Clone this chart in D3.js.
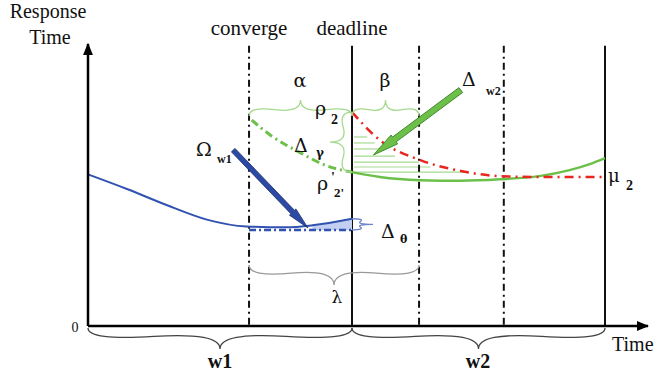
<!DOCTYPE html>
<html>
<head>
<meta charset="utf-8">
<script src="https://cdnjs.cloudflare.com/ajax/libs/d3/7.8.5/d3.min.js"></script>
<style>
  body { margin: 0; background: #fff; }
  text { font-family: "Liberation Serif", "Times New Roman", serif; fill: #111; }
  text.greek { font-family: "DejaVu Serif", serif; }
</style>
</head>
<body>
<div id="container"></div>
<script>
// sizes
const width = 658;
const height = 376;

// data (time units: window w1 = 0..10, w2 = 10..20; response time units 0..10)
const windowBounds = [0, 10, 20];
const convergeT = 6.1;
const betaT = 12.65;
const midW2T = 16;
const axisEndT = 21.8;
const axisTopV = 10;
const lineTopV = 9.8;

// blue response curve in w1
const blueT = [0, 1.5, 3, 4.5, 6, 7.5, 8.5, 10];
const blueV = [5.3, 4.78, 4.22, 3.72, 3.48, 3.45, 3.52, 3.75];
const blueBase = 3.36;       // dashed level after converge
const blueShadeFrom = 7.6;

// green predicted curve: dash-dot part (before deadline) and solid part (w2)
const greenDashT = [6.2, 6.9, 8.0, 9.05, 10];
const greenDashV = [7.2, 6.68, 6.08, 5.6, 5.38];
const greenT = [10, 11.1, 12.7, 14.3, 15.85, 17.4, 18.6, 19.4, 20];
const greenV = [5.38, 5.21, 5.1, 5.08, 5.13, 5.24, 5.45, 5.66, 5.87];

// red dash-dot curve from rho2 down to mu2
const redT = [10, 11.1, 12.7, 14.3, 15.85, 17.4, 20];
const redV = [7.48, 6.5, 5.8, 5.42, 5.24, 5.21, 5.21];

// hatch lines (level, end time)
const hatchV = [6.61, 6.4, 6.19, 5.94, 5.73, 5.56, 5.38];
const hatchEnd = [10.6, 10.9, 11.3, 11.7, 12.65, 13.1, 14.6];

// arrows [tailT, tailV, tipT, tipV]
const omegaArrow = [5.5, 6.15, 8.33, 3.43];
const deltaArrow = [14.3, 8.25, 10.85, 5.98];

// brace levels
const topBraceV = 7.62;
const lambdaV = 2.13;

// scales
const xScale = d3.scaleLinear()
    .domain([0, 10, 20, axisEndT])
    .range([88, 352, 605, 652]);

const yScale = d3.scaleLinear()
    .domain([0, 10])
    .range([326, 40]);

const svg = d3.select("#container")
    .append("svg")
    .attr("width", width)
    .attr("height", height);

const defs = svg.append("defs");
defs.append("marker")
    .attr("id", "axisHead")
    .attr("viewBox", "0 0 10 10")
    .attr("refX", 9).attr("refY", 5)
    .attr("markerWidth", 5).attr("markerHeight", 5)
    .attr("markerUnits", "strokeWidth")
    .attr("orient", "auto")
    .append("path").attr("d", "M0,1 L10,5 L0,9 Z").attr("fill", "#000");

// curly brace between two points, w = depth, q = curl
function brace(x1, y1, x2, y2, w, q) {
    let dx = x1 - x2, dy = y1 - y2;
    const len = Math.sqrt(dx * dx + dy * dy);
    dx /= len; dy /= len;
    const qx1 = x1 + q * w * dy, qy1 = y1 - q * w * dx;
    const qx2 = (x1 - .25 * len * dx) + (1 - q) * w * dy, qy2 = (y1 - .25 * len * dy) - (1 - q) * w * dx;
    const tx1 = (x1 - .5 * len * dx) + w * dy, ty1 = (y1 - .5 * len * dy) - w * dx;
    const qx3 = x2 + q * w * dy, qy3 = y2 - q * w * dx;
    const qx4 = (x1 - .75 * len * dx) + (1 - q) * w * dy, qy4 = (y1 - .75 * len * dy) - (1 - q) * w * dx;
    return `M${x1},${y1} Q${qx1},${qy1} ${qx2},${qy2} T${tx1},${ty1} M${x2},${y2} Q${qx3},${qy3} ${qx4},${qy4} T${tx1},${ty1}`;
}

// thick arrow polygon
function arrowShape(a, shaft, headW, headL) {
    const x1 = xScale(a[0]), y1 = yScale(a[1]), x2 = xScale(a[2]), y2 = yScale(a[3]);
    const len = Math.hypot(x2 - x1, y2 - y1);
    const ux = (x2 - x1) / len, uy = (y2 - y1) / len;
    const nx = -uy, ny = ux;
    const bx = x2 - ux * headL, by = y2 - uy * headL;
    const pts = [
        [x1 + nx * shaft / 2, y1 + ny * shaft / 2],
        [bx + nx * shaft / 2, by + ny * shaft / 2],
        [bx + nx * headW / 2, by + ny * headW / 2],
        [x2, y2],
        [bx - nx * headW / 2, by - ny * headW / 2],
        [bx - nx * shaft / 2, by - ny * shaft / 2],
        [x1 - nx * shaft / 2, y1 - ny * shaft / 2]
    ];
    return "M" + pts.map(p => p.join(",")).join("L") + "Z";
}

const zip = (ts, vs) => ts.map((t, i) => ({t: t, v: vs[i]}));

const line = d3.line()
    .x(d => xScale(d.t))
    .y(d => yScale(d.v))
    .curve(d3.curveMonotoneX);

// hatch lines
svg.selectAll(".hatch")
    .data(zip(hatchEnd, hatchV))
    .join("line")
    .attr("x1", xScale(10) + 2)
    .attr("x2", d => xScale(d.t))
    .attr("y1", d => yScale(d.v))
    .attr("y2", d => yScale(d.v))
    .attr("stroke", "#a6d991")
    .attr("stroke-width", 1.2);

// vertical marker lines
const vLines = [
    {t: convergeT, dash: "7,4,2,4"},
    {t: windowBounds[1], dash: null},
    {t: betaT, dash: "7,4,2,4"},
    {t: midW2T, dash: "7,4,2,4"},
    {t: windowBounds[2], dash: null}
];
svg.selectAll(".vline")
    .data(vLines)
    .join("line")
    .attr("x1", d => xScale(d.t))
    .attr("x2", d => xScale(d.t))
    .attr("y1", yScale(lineTopV))
    .attr("y2", yScale(0))
    .attr("stroke", "#111")
    .attr("stroke-width", 2)
    .attr("stroke-dasharray", d => d.dash);

// blue shaded wedge
const bluePts = zip(blueT, blueV);
const area = d3.area()
    .x(d => xScale(d.t))
    .y0(yScale(blueBase))
    .y1(d => yScale(d.v))
    .curve(d3.curveMonotoneX);
svg.append("path")
    .attr("d", area(bluePts.filter(d => d.t >= blueShadeFrom)))
    .attr("fill", "#c3cff0");

// blue dashed level
svg.append("line")
    .attr("x1", xScale(convergeT)).attr("x2", xScale(10))
    .attr("y1", yScale(blueBase)).attr("y2", yScale(blueBase))
    .attr("stroke", "#3152b0").attr("stroke-width", 2.5)
    .attr("stroke-dasharray", "7,3,2,3");

// blue curve
svg.append("path")
    .attr("d", line(bluePts))
    .attr("fill", "none")
    .attr("stroke", "#3152b0")
    .attr("stroke-width", 2);

// green dash-dot
svg.append("path")
    .attr("d", line(zip(greenDashT, greenDashV)))
    .attr("fill", "none")
    .attr("stroke", "#6cc04a")
    .attr("stroke-width", 3)
    .attr("stroke-dasharray", "8,4,2,4");

// green solid
svg.append("path")
    .attr("d", line(zip(greenT, greenV)))
    .attr("fill", "none")
    .attr("stroke", "#6cc04a")
    .attr("stroke-width", 2.5);

// red dash-dot
svg.append("path")
    .attr("d", line(zip(redT, redV)))
    .attr("fill", "none")
    .attr("stroke", "#e8261f")
    .attr("stroke-width", 2.5)
    .attr("stroke-dasharray", "9,5,2,5");

// braces
const braces = [
    {p: [xScale(10), yScale(topBraceV) + 8, xScale(convergeT), yScale(topBraceV) + 8], w: 16, c: "#a5d98e"},   // alpha
    {p: [xScale(betaT), yScale(topBraceV) + 8, xScale(10), yScale(topBraceV) + 8], w: 16, c: "#a5d98e"},       // beta
    {p: [xScale(10), yScale(redV[0]), xScale(10), yScale(greenV[0])], w: 22, c: "#a5d98e"},                  // delta gamma
    {p: [xScale(10), yScale(blueBase), xScale(10), yScale(blueV[blueV.length - 1])], w: 21, c: "#6f86cf"},   // delta theta
    {p: [xScale(convergeT), yScale(lambdaV), xScale(betaT), yScale(lambdaV)], w: 20, c: "#999"},             // lambda
    {p: [xScale(0), yScale(0) + 2, xScale(10), yScale(0) + 2], w: 21, c: "#444"},                             // w1
    {p: [xScale(10), yScale(0) + 2, xScale(20), yScale(0) + 2], w: 21, c: "#444"}                             // w2
];
svg.selectAll(".brace")
    .data(braces)
    .join("path")
    .attr("d", d => brace(d.p[0], d.p[1], d.p[2], d.p[3], d.w, 0.6))
    .attr("fill", "none")
    .attr("stroke", d => d.c)
    .attr("stroke-width", 1.3);

// axes
svg.append("line")
    .attr("x1", xScale(0)).attr("x2", xScale(0))
    .attr("y1", yScale(0)).attr("y2", yScale(axisTopV) + 4)
    .attr("stroke", "#000").attr("stroke-width", 2.5)
    .attr("marker-end", "url(#axisHead)");
svg.append("line")
    .attr("x1", xScale(0)).attr("x2", xScale(axisEndT) - 4)
    .attr("y1", yScale(0)).attr("y2", yScale(0))
    .attr("stroke", "#000").attr("stroke-width", 2.5)
    .attr("marker-end", "url(#axisHead)");

// arrows
svg.append("path")
    .attr("d", arrowShape(omegaArrow, 5, 9, 22))
    .attr("fill", "#2c4aa3")
    .attr("stroke", "#1d2f70")
    .attr("stroke-width", 0.8);
svg.append("path")
    .attr("d", arrowShape(deltaArrow, 6, 11, 26))
    .attr("fill", "#6cc04a")
    .attr("stroke", "#3f8a2a")
    .attr("stroke-width", 1);

// labels
const labels = [
    {x: 48, y: 18, s: "Response", size: 20, anchor: "middle"},
    {x: 50, y: 44, s: "Time", size: 20, anchor: "middle"},
    {x: 75, y: 332, s: "0", size: 14, anchor: "middle"},
    {x: 612, y: 351, s: "Time", size: 20},
    {x: 220, y: 368, s: "w1", size: 20, anchor: "middle", bold: true},
    {x: 478, y: 368, s: "w2", size: 20, anchor: "middle", bold: true},
    {x: xScale(convergeT), y: 35, s: "converge", size: 21, anchor: "middle"},
    {x: xScale(10), y: 35, s: "deadline", size: 21, anchor: "middle"},
    {x: 300, y: 87, s: "α", size: 19, anchor: "middle", greek: true},
    {x: 385, y: 87, s: "β", size: 19, anchor: "middle", greek: true},
    {x: 315, y: 115, s: "ρ", size: 19, greek: true},
    {x: 331, y: 124, s: "2", size: 14, bold: true},
    {x: 294, y: 152, s: "Δ", size: 19, greek: true},
    {x: 316, y: 157, s: "γ", size: 12, bold: true, greek: true},
    {x: 317, y: 190, s: "ρ", size: 19, greek: true},
    {x: 331, y: 182, s: "'", size: 14, bold: true},
    {x: 334, y: 197, s: "2'", size: 13, bold: true},
    {x: 196, y: 156, s: "Ω", size: 19, greek: true},
    {x: 217, y: 163, s: "w1", size: 12, bold: true},
    {x: 462, y: 86, s: "Δ", size: 19, greek: true},
    {x: 486, y: 95, s: "w2", size: 12, bold: true},
    {x: 381, y: 238, s: "Δ", size: 19, greek: true},
    {x: 400, y: 243, s: "θ", size: 11, bold: true, greek: true},
    {x: 337, y: 303, s: "λ", size: 17, anchor: "middle", greek: true},
    {x: 608, y: 182, s: "μ", size: 18, greek: true},
    {x: 626, y: 190, s: "2", size: 14, bold: true}
];
svg.selectAll(".label")
    .data(labels)
    .join("text")
    .attr("class", d => d.greek ? "greek" : null)
    .attr("x", d => d.x)
    .attr("y", d => d.y)
    .attr("font-size", d => d.size)
    .attr("font-weight", d => d.bold ? "bold" : "normal")
    .attr("text-anchor", d => d.anchor || "start")
    .text(d => d.s);
</script>
</body>
</html>
